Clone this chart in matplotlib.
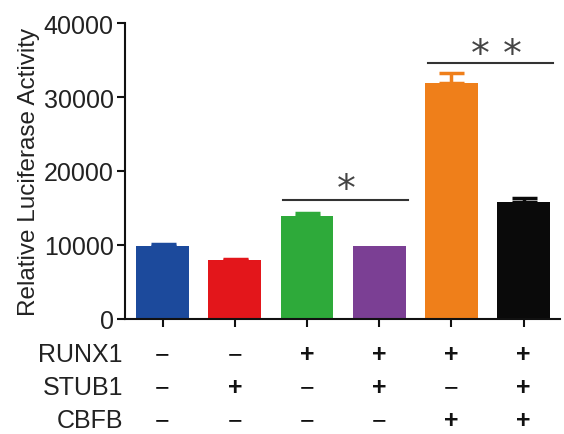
import matplotlib
matplotlib.use("Agg")
import matplotlib.pyplot as plt
import matplotlib.transforms as mtransforms
import numpy as np

plt.rcParams["font.family"] = ["Liberation Sans", "DejaVu Sans"]

# ── data ──
means = [9800, 7950, 13950, 9800, 31900, 15750]
errs = [300, 200, 400, 0, 1400, 650]
colors = ["#1c4a9c", "#e3161b", "#2eaa3a", "#7b3f94", "#ef7f1a", "#0a0a0a"]
row_names = ["RUNX1", "STUB1", "CBFB"]
runx1 = ["−", "−", "+", "+", "+", "+"]
stub1 = ["−", "+", "−", "+", "−", "+"]
cbfb = ["−", "−", "−", "−", "+", "+"]
yticks = [0, 10000, 20000, 30000, 40000]

FS = 18
TXT = "#222222"

fig = plt.figure(figsize=(5.64, 4.35), dpi=100)
ax = fig.add_axes([0.2216, 0.2644, 0.771, 0.6804])

x = np.arange(len(means))
ax.bar(x, means, width=0.73, color=colors, zorder=2)
for xi, m, e, c in zip(x, means, errs, colors):
    if e > 0:
        ax.errorbar(xi, m, yerr=[[0], [e]], color=c, capsize=9,
                    elinewidth=2.5, capthick=2.5, zorder=1)

ax.set_xlim(-0.52, 5.5)
ax.set_ylim(0, 40000)
ax.set_yticks(yticks)
ax.set_yticklabels([str(t) for t in yticks], fontsize=FS, color=TXT)
ax.set_xticks(x)
ax.set_xticklabels([])
ax.set_ylabel("Relative Luciferase Activity", fontsize=FS - 0.5, color=TXT, labelpad=3)
for s in ["top", "right"]:
    ax.spines[s].set_visible(False)
for s in ["left", "bottom"]:
    ax.spines[s].set_linewidth(1.5)
    ax.spines[s].set_color("#111111")
ax.tick_params(axis="both", direction="out", length=6, width=1.5, color="#111111", pad=2)

# significance
star = dict(ha="center", va="center", fontsize=27, color="#444444",
            family="DejaVu Sans")
ax.plot([1.67, 3.4], [16100, 16100], color="#333333", lw=1.5)
ax.text(2.55, 17400, "*", **star)
ax.plot([3.67, 5.4], [34550, 34550], color="#333333", lw=1.5)
ax.text(4.40, 35700, "*", **star)
ax.text(4.84, 35700, "*", **star)

# condition table: bold plus, plain minus
trans = mtransforms.blended_transform_factory(ax.transData, fig.transFigure)
rows_y = [1 - 355.5 / 435, 1 - 388.5 / 435, 1 - 421.5 / 435]
for name, vals, yy in zip(row_names, [runx1, stub1, cbfb], rows_y):
    fig.text(123 / 564, yy, name, ha="right", va="center", fontsize=FS, color=TXT)
    for xi, v in zip(x, vals):
        ax.text(xi, yy, v, transform=trans, ha="center", va="center",
                fontsize=18, fontweight="bold" if v == "+" else "normal",
                color="#111111")

fig.savefig("out.png", dpi=100)
